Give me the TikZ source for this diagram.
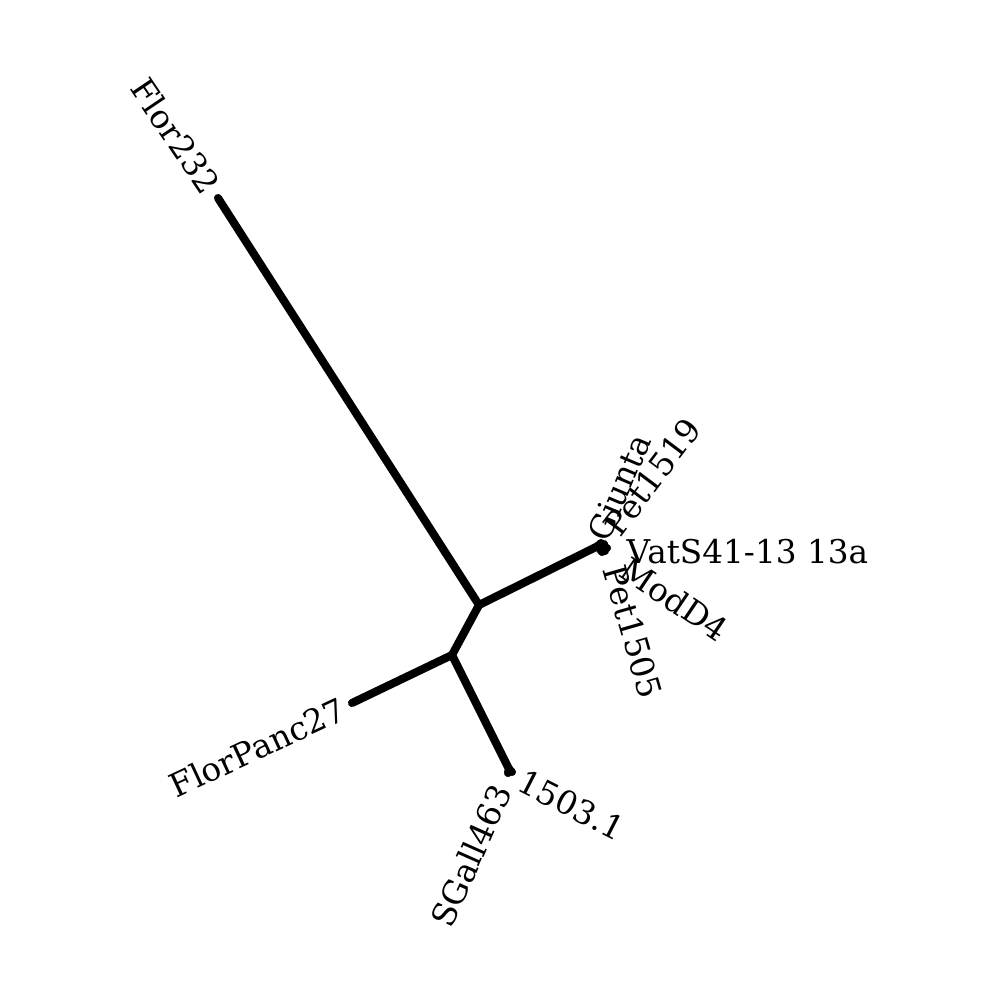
\documentclass[tikz,border=0pt]{standalone}
\usepackage{fontspec}
\setmainfont{DejaVu Serif}
\begin{document}
\begin{tikzpicture}[x=0.01cm,y=-0.01cm,
  branch/.style={line width=2.3pt,line cap=round,line join=round},
  tiplabel/.style={font=\fontsize{9.3}{11}\selectfont,inner sep=0pt}]
\useasboundingbox (0,0) rectangle (1000,1000);
% internal nodes
\coordinate (A) at (479,605);
\coordinate (B) at (452,655);
\coordinate (C) at (598,546);
\coordinate (D) at (509,769);
% tips
\coordinate (tFlor) at (218,198);
\coordinate (tPanc) at (352,703);
\coordinate (tGiunta) at (601,543);
\coordinate (tP1519) at (604,544);
\coordinate (tVat) at (607,548);
\coordinate (tModD) at (605,551);
\coordinate (tP1505) at (602,552);
\coordinate (t1503) at (512,772);
\coordinate (tSGall) at (508,773);
% branches
\draw[branch] (A) -- (tFlor);
\draw[branch] (A) -- (C);
\draw[branch] (A) -- (B);
\draw[branch] (B) -- (tPanc);
\draw[branch] (B) -- (D);
\draw[branch] (C) -- (tGiunta);
\draw[branch] (C) -- (tP1519);
\draw[branch] (C) -- (tVat);
\draw[branch] (C) -- (tModD);
\draw[branch] (C) -- (tP1505);
\draw[branch] (D) -- (t1503);
\draw[branch] (D) -- (tSGall);
% labels
\node[tiplabel,anchor=east,rotate=-56] (lFlor) at (213,191) {Flor232};
\node[tiplabel,anchor=east,rotate=25] (lPanc) at (344,707) {FlorPanc27};
\node[tiplabel,anchor=west,rotate=67] (lGiunta) at (597,539) {Giunta};
\node[tiplabel,anchor=west,rotate=53] (lP1519) at (611,532) {Pet1519};
\node[tiplabel,anchor=west] (lVat) at (626,552) {VatS41-13 13a};
\node[tiplabel,anchor=west,rotate=-34] (lModD) at (624,565) {ModD4};
\node[tiplabel,anchor=west,rotate=-74] (lP1505) at (614,566) {Pet1505};
\node[tiplabel,anchor=west,rotate=-27] (l1503) at (520,779) {1503.1};
\node[tiplabel,anchor=east,rotate=66] (lSGall) at (502,786) {SGall463};
\end{tikzpicture}
\end{document}
